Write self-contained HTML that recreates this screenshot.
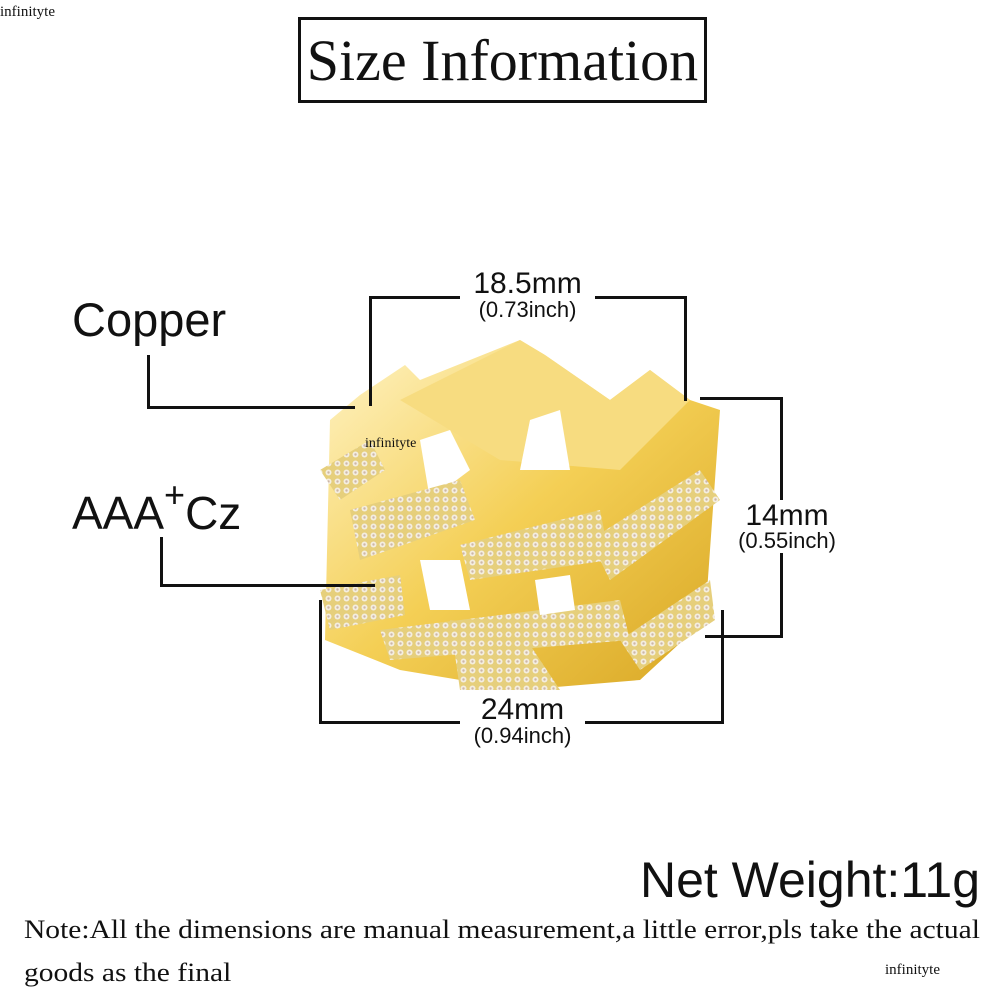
<!DOCTYPE html>
<html><head><meta charset="utf-8"><style>
body{margin:0;width:1000px;height:1000px;background:#fff;position:relative;overflow:hidden;font-family:"Liberation Sans",sans-serif;color:#111}
.a{position:absolute;white-space:nowrap}
.l{position:absolute;background:#111}
.s{font-family:"Liberation Serif",serif}
</style></head><body>
<div class="a s" style="left:0;top:4px;font-size:15px">infinityte</div>
<div class="a" style="left:298px;top:17px;width:403px;height:80px;border:3px solid #111"></div>
<div class="a s" style="left:298px;top:28px;width:409px;text-align:center;font-size:58px;line-height:66px">Size Information</div>

<svg class="a" style="left:0;top:0" width="1000" height="1000">
<defs>
<linearGradient id="g" x1="0" y1="0" x2="1" y2="1"><stop offset="0" stop-color="#fff4c8"/><stop offset=".5" stop-color="#f4cf55"/><stop offset="1" stop-color="#d8a623"/></linearGradient>
<pattern id="p" width="9" height="9" patternUnits="userSpaceOnUse"><rect width="9" height="9" fill="#e6cf7c"/><circle cx="4.5" cy="4.5" r="3" fill="#f4eee0"/><circle cx="4.5" cy="4.5" r="1.2" fill="#cdb6a8"/></pattern>
</defs>
<polygon points="360,395 405,365 420,380 470,360 520,340 545,355 610,400 650,370 690,400 720,410 705,620 640,680 520,690 400,670 325,640 330,420" fill="url(#g)"/>
<polygon points="400,400 470,365 520,340 545,355 610,400 650,370 690,400 620,470 500,460" fill="#f7dc80"/>
<polygon points="420,440 450,430 470,470 430,500" fill="#fff"/>
<polygon points="530,420 560,410 570,470 520,470" fill="#fff"/>
<polygon points="320,470 370,440 385,470 340,500" fill="url(#p)"/>
<polygon points="350,510 460,480 475,520 360,560" fill="url(#p)"/>
<polygon points="460,545 600,510 610,560 470,580" fill="url(#p)"/>
<polygon points="590,540 700,470 720,500 610,580" fill="url(#p)"/>
<polygon points="320,590 400,575 405,615 330,630" fill="url(#p)"/>
<polygon points="380,630 620,600 630,640 390,660" fill="url(#p)"/>
<polygon points="620,640 710,580 715,620 640,670" fill="url(#p)"/>
<polygon points="450,620 520,630 560,690 460,690" fill="url(#p)"/>
<polygon points="420,560 460,560 470,610 430,610" fill="#fff"/>
<polygon points="535,580 570,575 575,610 540,615" fill="#fff"/>
</svg>
<div class="a s" style="left:365px;top:436px;font-size:14px">infinityte</div>

<div class="a" style="left:72px;top:292px;font-size:47px">Copper</div>
<div class="l" style="left:147px;top:355px;width:3px;height:54px"></div>
<div class="l" style="left:147px;top:406px;width:208px;height:3px"></div>
<div class="a" style="left:72px;top:486px;font-size:46px">AAA<span style="font-size:36px;position:relative;top:-22px">+</span>Cz</div>
<div class="l" style="left:160px;top:537px;width:3px;height:50px"></div>
<div class="l" style="left:160px;top:584px;width:215px;height:3px"></div>

<div class="l" style="left:369px;top:296px;width:3px;height:110px"></div>
<div class="l" style="left:369px;top:296px;width:318px;height:3px"></div>
<div class="l" style="left:684px;top:296px;width:3px;height:105px"></div>
<div class="a" style="left:460px;top:268px;width:135px;text-align:center;background:#fff;font-size:30px;line-height:32px">18.5mm</div>
<div class="a" style="left:460px;top:298px;width:135px;text-align:center;font-size:22px;line-height:24px">(0.73inch)</div>

<div class="l" style="left:700px;top:397px;width:83px;height:3px"></div>
<div class="l" style="left:780px;top:397px;width:3px;height:240px"></div>
<div class="l" style="left:705px;top:635px;width:78px;height:3px"></div>
<div class="a" style="left:732px;top:500px;width:110px;text-align:center;background:#fff;font-size:30px;line-height:32px">14mm</div>
<div class="a" style="left:732px;top:529px;width:110px;text-align:center;background:#fff;font-size:22px;line-height:24px">(0.55inch)</div>

<div class="l" style="left:319px;top:600px;width:3px;height:124px"></div>
<div class="l" style="left:319px;top:721px;width:405px;height:3px"></div>
<div class="l" style="left:721px;top:610px;width:3px;height:114px"></div>
<div class="a" style="left:460px;top:694px;width:125px;text-align:center;background:#fff;font-size:30px;line-height:32px">24mm</div>
<div class="a" style="left:460px;top:724px;width:125px;text-align:center;background:#fff;font-size:22px;line-height:24px">(0.94inch)</div>

<div class="a" style="right:20px;top:850px;font-size:50px;line-height:60px">Net Weight:11g</div>
<div class="a s" style="left:24px;top:914px;font-size:26px;line-height:32px;transform:scaleX(1.135);transform-origin:0 0">Note:All the dimensions are manual measurement,a little error,pls take the actual</div>
<div class="a s" style="left:24px;top:957px;font-size:26px;line-height:32px;transform:scaleX(1.135);transform-origin:0 0">goods as the final</div>
<div class="a s" style="left:885px;top:962px;font-size:15px">infinityte</div>
</body></html>
